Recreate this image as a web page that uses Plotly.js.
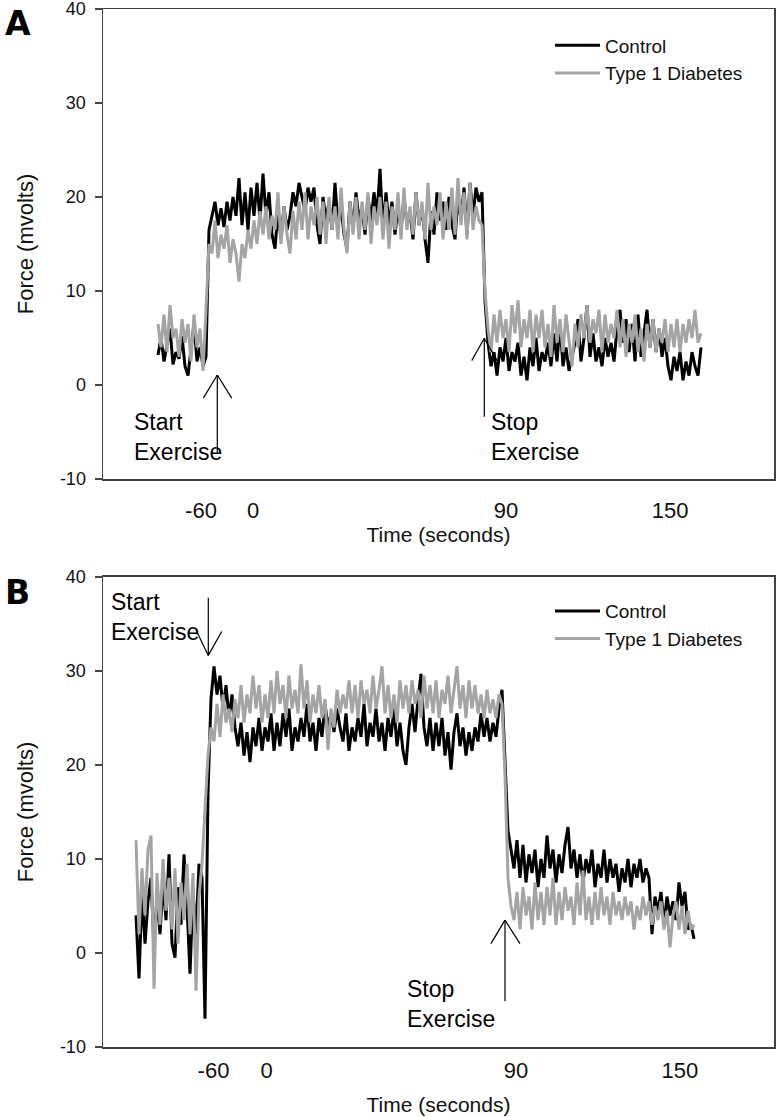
<!DOCTYPE html>
<html>
<head>
<meta charset="utf-8">
<script src="https://cdn.plot.ly/plotly-3.0.1.min.js"></script>
<style>html,body{margin:0;padding:0;background:#fff;}#chart{width:777px;height:1117px;}</style>
</head>
<body>
<div id="chart"></div>
<script>
// Tick labels
const timeTickText = ['-60', '0', '90', '150'];
const forceTickVals = [-10, 0, 10, 20, 30, 40];
const forceTickText = ['-10', '0', '10', '20', '30', '40'];
const seriesNames = ['Control', 'Type 1 Diabetes'];

// Panel A: force (mvolts) per sample
const ctrlA = [
  3.2, 5.0, 2.5, 4.2, 6.0, 2.2, 3.5, 2.8, 5.2, 2.0, 1.0, 3.8, 6.5, 2.5, 4.0, 2.0, 3.0,
  16.5,
  18.0, 19.5, 17.0, 18.8, 16.8, 19.5, 17.5, 20.0, 18.0,
  22.0, 17.0, 20.5, 16.5, 21.0, 18.0, 21.5, 17.5, 22.5,
  18.0, 20.5, 16.0, 14.5, 18.5, 15.5, 19.0, 16.5, 18.0,
  20.5, 19.0, 21.5, 20.0, 18.5, 21.0, 19.5, 21.0, 17.0,
  15.0, 20.0, 17.5, 19.5, 16.5, 21.5, 17.0, 19.0, 16.0,
  14.5, 19.5, 16.5, 20.5, 17.5, 19.0, 16.0, 20.0, 17.5,
  20.5, 18.0, 23.0, 16.5, 20.5, 17.0, 19.5, 16.0, 19.0,
  16.5, 20.0, 17.0, 18.5, 15.5, 20.5, 17.0, 19.0, 15.5,
  13.0, 18.5, 16.0, 20.5, 17.5, 19.5, 16.5, 20.0, 17.0,
  15.5, 20.0, 17.5, 21.0, 16.0, 21.5, 18.0, 21.0, 19.5,
  20.5,
  9.0,
  4.5, 2.0, 3.5, 1.0, 4.0, 2.5, 5.0, 1.5, 3.5, 2.5, 4.5, 1.0, 3.0, 0.5, 4.0,
  2.0, 5.0, 1.5, 3.5, 2.5, 4.5, 2.0, 5.5, 2.5, 6.5, 2.0, 4.0, 1.5, 3.0, 4.5,
  7.0, 2.5, 5.0, 8.5, 3.0, 5.5, 2.5, 4.0, 2.0, 5.0, 3.0, 4.5, 2.5, 6.0, 8.0,
  4.5, 7.0, 3.5, 6.5, 2.5, 7.5, 3.0, 5.5, 8.0, 4.0, 7.0, 3.5, 6.0, 3.0, 5.0,
  2.0, 0.5, 3.0, 1.5, 3.5, 0.5, 2.5, 1.0, 3.5, 2.0, 1.0, 4.0
];
const t1dA = [
  6.5, 4.0, 7.5, 3.5, 8.5, 5.0, 6.0, 3.0, 7.0, 4.5, 6.5, 2.5, 7.5, 4.0, 6.0, 1.5, 8.0,
  15.0,
  14.0, 17.5, 13.5, 16.0, 14.5, 17.0, 13.0, 15.5, 14.0,
  11.0, 15.0, 13.5, 16.5, 14.5, 17.5, 15.0, 18.5, 16.0,
  19.0, 15.5, 18.0, 16.5, 20.5, 15.0, 19.0, 16.0, 14.0,
  18.5, 15.5, 19.5, 16.5, 20.5, 15.5, 19.0, 17.0, 20.0,
  16.0, 19.5, 15.0, 20.0, 16.5, 19.0, 15.5, 21.0, 16.5,
  14.0, 19.5, 16.0, 20.0, 15.5, 19.5, 16.5, 20.5, 15.0,
  19.0, 17.0, 20.0, 15.5, 19.5, 14.5, 19.0, 16.5, 20.5,
  15.5, 21.0, 16.5, 19.0, 16.0, 20.5, 17.0, 19.5, 15.5,
  21.5, 16.5, 19.0, 17.0, 20.5, 15.5, 19.5, 16.5, 21.0,
  16.0, 22.0, 17.0, 20.5, 15.5, 21.5, 16.5, 19.0, 17.5,
  17.0,
  10.0,
  6.0, 3.5, 7.5, 4.5, 8.0, 5.0, 7.0, 3.5, 8.5, 5.5, 9.0, 4.0, 7.0, 5.0, 8.0,
  3.5, 7.5, 5.0, 8.0, 4.0, 6.5, 3.0, 8.5, 4.5, 7.0, 3.5, 7.5, 5.0, 2.0, 6.5,
  4.0, 7.5, 5.0, 8.5, 4.5, 7.0, 5.5, 8.0, 3.5, 7.5, 4.5, 6.5, 5.0, 8.0, 4.0,
  7.0, 3.0, 6.5, 4.5, 7.5, 3.5, 6.0, 2.5, 6.5, 4.0, 7.0, 3.5, 6.0, 4.5, 7.0,
  3.5, 6.5, 4.0, 7.0, 3.5, 6.5, 4.5, 7.0, 5.0, 8.0, 4.5, 5.5
];

// Panel B: force (mvolts) per sample
const ctrlB = [
  4.0, -2.7, 6.5, 1.0, 5.5, 8.0, 0.5, 6.0, 2.0, 7.5, 3.5, 10.5, 1.0, -0.5, 7.0, 3.0, 10.5, 5.0, -2.2, 6.5, 2.0, 9.5, 8.0,
  -7.0, 17.0,
  27.0, 30.5, 27.5, 29.5, 26.0, 28.5, 25.0, 27.5, 24.0,
  22.0, 24.5, 21.0, 23.5, 20.3, 24.0, 22.0, 25.0, 21.5,
  24.0, 22.5, 25.5, 21.5, 24.5, 22.0, 25.5, 23.0, 26.0,
  21.5, 24.0, 22.5, 25.0, 23.0, 26.5, 22.5, 24.5, 21.5,
  25.0, 23.0, 26.5, 24.0, 25.5, 23.5, 26.0, 24.0, 22.5,
  25.5, 21.5, 24.0, 22.5, 25.0, 23.0, 26.5, 22.0, 24.5,
  23.0, 26.0, 22.5, 24.5, 21.5, 25.0, 23.0, 26.0, 22.0,
  24.5, 21.5, 20.0, 24.0, 26.5, 23.5, 27.0, 29.7, 24.0,
  22.0, 25.0, 21.5, 24.5, 22.0, 25.0, 21.0, 23.5, 19.5,
  23.5, 25.5, 22.0, 24.0, 21.0, 23.5, 21.5, 24.0, 22.5,
  25.5, 23.0, 25.0, 22.5, 24.5, 23.0, 26.0, 28.0,
  20.0, 13.0, 11.0,
  9.0, 12.0, 8.0, 11.5, 7.5, 10.5, 8.5, 11.0, 7.0, 10.0, 8.0, 12.5, 9.0, 11.0, 7.5,
  10.5, 8.5, 11.5, 13.4, 9.0, 11.0, 8.0, 10.5, 7.5, 10.0, 8.5, 11.0, 7.0, 9.5, 8.0,
  11.0, 7.5, 10.0, 8.0, 9.5, 6.5, 9.0, 7.5, 10.0, 7.0, 9.5, 8.0, 10.0, 7.5, 9.0,
  8.0, 2.0, 6.0, 4.5, 6.5, 3.0, 6.0, 4.0, 5.5, 3.5, 7.5, 5.0, 6.5, 2.5, 3.0,
  1.5
];
const t1dB = [
  12.0, 2.0, 9.0, 4.0, 11.0, 12.5, -3.8, 8.5, 3.0, 10.0, 4.5, 8.0, 2.5, 9.0, 1.0, 7.5, 3.5, 9.5, 2.0, 8.5, -4.0, 6.0, 9.5,
  15.5, 21.0,
  24.0, 22.5, 26.5, 23.0, 27.5, 24.5, 26.0, 23.5, 27.0,
  25.0, 28.5, 24.5, 27.5, 25.5, 29.5, 26.0, 28.5, 24.5,
  27.5, 25.0, 29.0, 25.5, 30.0, 26.5, 28.5, 25.0, 29.5,
  26.0, 28.0, 25.5, 30.7, 26.0, 29.0, 24.5, 27.5, 25.5,
  28.5, 25.0, 27.0, 21.6, 26.0, 24.0, 28.0, 25.5, 27.5,
  26.0, 29.0, 25.5, 28.5, 25.0, 29.0, 26.5, 28.0, 25.5,
  29.5, 26.0, 28.0, 30.5, 25.5, 28.5, 25.0, 27.5, 24.5,
  29.0, 26.0, 28.5, 25.5, 29.0, 26.5, 28.0, 25.0, 29.5,
  26.0, 28.5, 25.5, 29.0, 25.0, 28.0, 26.5, 29.5, 25.5,
  28.0, 30.5, 26.0, 28.5, 25.0, 29.0, 26.0, 28.5, 25.5,
  27.5, 25.0, 28.0, 25.5, 27.0, 25.0, 27.5, 26.5,
  19.0, 8.0, 5.0,
  3.5, 6.5, 2.5, 7.0, 4.0, 6.0, 2.5, 7.5, 3.5, 6.5, 3.0, 7.0, 4.0, 8.0, 3.0,
  6.5, 3.5, 7.0, 4.5, 6.0, 3.0, 7.5, 4.0, 8.8, 3.5, 6.0, 3.0, 6.5, 3.5, 7.0,
  4.0, 6.0, 3.0, 6.5, 4.0, 5.5, 3.5, 6.0, 4.0, 5.5, 2.5, 5.0, 3.5, 6.0, 4.0,
  5.5, 3.0, 5.0, 3.5, 5.5, 2.5, 4.5, 0.6, 4.0, 5.5, 2.5, 5.0, 2.0, 4.5, 2.5,
  3.0
];

const idx = arr => arr.map((_, i) => i);
const FONT = 'Liberation Sans, Arial, Helvetica, sans-serif';
const BLACK = '#000000';
const GRAY = '#a4a4a4';
const LW = 3;

const traces = [
  {x: idx(ctrlA), y: ctrlA, name: seriesNames[0], type: 'scatter', mode: 'lines', line: {color: BLACK, width: LW}, xaxis: 'x', yaxis: 'y', legend: 'legend'},
  {x: idx(t1dA), y: t1dA, name: seriesNames[1], type: 'scatter', mode: 'lines', line: {color: GRAY, width: LW}, xaxis: 'x', yaxis: 'y', legend: 'legend'},
  {x: idx(ctrlB), y: ctrlB, name: seriesNames[0], type: 'scatter', mode: 'lines', line: {color: BLACK, width: LW}, xaxis: 'x2', yaxis: 'y2', legend: 'legend2'},
  {x: idx(t1dB), y: t1dB, name: seriesNames[1], type: 'scatter', mode: 'lines', line: {color: GRAY, width: LW}, xaxis: 'x2', yaxis: 'y2', legend: 'legend2'}
];

const axisLine = {showline: true, linecolor: '#444', linewidth: 1.5, mirror: true, showgrid: false, zeroline: false};
const xBase = (range, tickvals, standoff, titleStandoff, anchor) => Object.assign({}, axisLine, {
  range: range, tickmode: 'array', tickvals: tickvals, ticktext: timeTickText, ticks: '',
  ticklabelstandoff: standoff, tickfont: {family: FONT, size: 22, color: '#111'},
  title: {text: 'Time (seconds)', font: {family: FONT, size: 21, color: '#111'}, standoff: titleStandoff},
  anchor: anchor, domain: [0, 1]
});
const yBase = (domain, anchor) => Object.assign({}, axisLine, {
  range: [-10, 40], tickmode: 'array', tickvals: forceTickVals, ticktext: forceTickText,
  ticks: 'outside', ticklen: 7, tickcolor: '#444', tickwidth: 1.5, ticklabelstandoff: 5,
  ticklabeloverflow: 'allow',
  tickfont: {family: FONT, size: 18, color: '#111'},
  title: {text: 'Force (mvolts)', font: {family: FONT, size: 22, color: '#111'}, standoff: 20},
  anchor: anchor, domain: domain
});

const arrowLine = {color: '#000', width: 1.2};
function arrow(xr, yr, x, yTip, yTail, xl, xrgt, yHead) {
  return [
    {type: 'line', xref: xr, yref: yr, x0: x, y0: yTail, x1: x, y1: yTip, line: arrowLine},
    {type: 'line', xref: xr, yref: yr, x0: xl, y0: yHead, x1: x, y1: yTip, line: arrowLine},
    {type: 'line', xref: xr, yref: yr, x0: xrgt, y0: yHead, x1: x, y1: yTip, line: arrowLine}
  ];
}
function label(xr, yr, x, y, text) {
  return {xref: xr, yref: yr, x: x, y: y, text: text, showarrow: false, xanchor: 'left', yanchor: 'middle', align: 'left',
          font: {family: FONT, size: 23, color: '#000'}, borderpad: 0};
}
const legendStyle = {xanchor: 'left', yanchor: 'top', bgcolor: 'rgba(0,0,0,0)', font: {family: FONT, size: 19, color: '#111'}, itemwidth: 45, tracegroupgap: 0};

const layout = {
  width: 777, height: 1117,
  margin: {l: 103, r: 3, t: 9, b: 70},
  paper_bgcolor: '#fff', plot_bgcolor: '#fff',
  font: {family: FONT, color: '#111'},
  xaxis: xBase([-18.33, 205.33], [14.33, 31.67, 116, 170.67], 11, 4, 'y'),
  yaxis: yBase([0.5472, 1], 'x'),
  xaxis2: xBase([-11, 212.67], [25.83, 43.5, 126.67, 181.33], 3, 15, 'y2'),
  yaxis2: yBase([0, 0.4528], 'x2'),
  legend: Object.assign({x: 0.6662, y: 0.9832}, legendStyle),
  legend2: Object.assign({x: 0.6662, y: 0.4383}, legendStyle),
  shapes: [].concat(
    arrow('x', 'y', 19.77, 1.06, -7.2, 15.1, 24.57, -1.4),
    arrow('x', 'y', 108.77, 4.97, -3.37, 104.57, 113, 2.59),
    arrow('x2', 'y2', 24.1, 31.66, 37.8, 20.23, 28.57, 34.2),
    arrow('x2', 'y2', 123, 3.5, -5.13, 118.33, 128, 1.0)
  ),
  annotations: [
    label('x', 'y', -8.33, -5.5, 'Start<br>Exercise'),
    label('x', 'y', 110.67, -5.48, 'Stop<br>Exercise'),
    label('x2', 'y2', -8.67, 35.74, 'Start<br>Exercise'),
    label('x2', 'y2', 90, -5.43, 'Stop<br>Exercise'),
    {xref: 'paper', yref: 'paper', x: -0.1267, y: 0.986, text: '<b>A</b>', showarrow: false, xanchor: 'center', yanchor: 'middle', font: {family: 'DejaVu Sans, Liberation Sans, sans-serif', size: 33, color: '#000'}},
    {xref: 'paper', yref: 'paper', x: -0.1267, y: 0.4383, text: '<b>B</b>', showarrow: false, xanchor: 'center', yanchor: 'middle', font: {family: 'DejaVu Sans, Liberation Sans, sans-serif', size: 33, color: '#000'}}
  ]
};

Plotly.newPlot('chart', traces, layout, {displayModeBar: false, staticPlot: true});
</script>
</body>
</html>
